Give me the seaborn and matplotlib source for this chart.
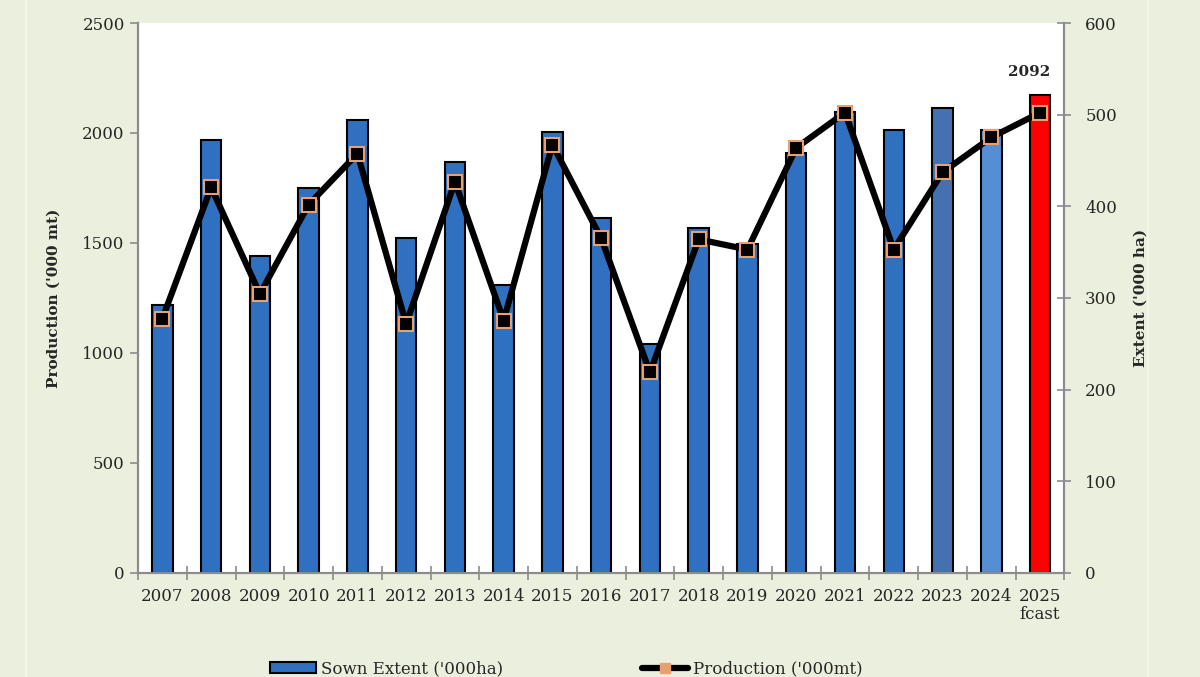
import numpy as np
import pandas as pd
import matplotlib
matplotlib.use("Agg")
import matplotlib.pyplot as plt
from matplotlib.patches import Patch
from matplotlib.lines import Line2D
import seaborn as sns

# data
years = ["2007", "2008", "2009", "2010", "2011", "2012", "2013", "2014", "2015", "2016",
         "2017", "2018", "2019", "2020", "2021", "2022", "2023", "2024", "2025\nfcast"]
extent = [292, 472, 346, 420, 494, 365, 448, 314, 481, 387,
          250, 376, 359, 458, 503, 483, 507, 483, 521]
production = [1156, 1752, 1268, 1674, 1906, 1132, 1778, 1147, 1947, 1521,
              911, 1516, 1470, 1932, 2093, 1470, 1821, 1980, 2092]
bar_colors = ["#3070C0"] * 16 + ["#4472B0", "#558ED5", "#FF0000"]

df = pd.DataFrame({"year": years, "extent": extent, "production": production})
df["pos"] = np.arange(len(years))

sns.set_theme(style="white")
plt.rcParams["font.family"] = ["DejaVu Serif"]
plt.rcParams["axes.edgecolor"] = "#8C8C8C"

bg = "#EBEFDD"
fig = plt.figure(figsize=(12, 6.77), dpi=100, facecolor=bg)
# faint panel edges in the background
for xf in (26 / 1200, 1148 / 1200):
    fig.add_artist(Line2D([xf, xf], [0, 1], color="#F3F6EA", linewidth=1.5,
                          transform=fig.transFigure, zorder=0))

ax2 = fig.add_axes([0.115, 0.154, 0.772, 0.812])
ax1 = ax2.twinx()

# bars: sown extent on the right axis
sns.barplot(data=df, x="year", y="extent", hue="year", palette=bar_colors, legend=False,
            width=0.42, edgecolor="black", linewidth=1.5, saturation=1, ax=ax2)
ax2.set_facecolor("white")
ax2.set_ylim(0, 600)
ax2.set_yticks(range(0, 601, 100))
ax2.yaxis.tick_right()
ax2.yaxis.set_label_position("right")
ax2.set_xlim(-0.5, len(years) - 0.5)
ax2.set_xlabel("")
ax2.set_ylabel("Extent ('000 ha)", fontsize=11, fontweight="bold", labelpad=0)
ax2.yaxis.set_label_coords((1133 - 138) / 926, 0.5)
ax2.tick_params(axis="y", which="major", direction="inout", length=10, width=1.2,
                color="#8C8C8C", labelsize=12, pad=10, right=True, left=False,
                labelright=True, labelleft=False)

# line: production on the left axis
ax1.set_zorder(ax2.get_zorder() + 1)
ax1.patch.set_visible(False)
sns.lineplot(data=df, x="pos", y="production", color="black", linewidth=4.5,
             marker="s", markersize=9.5, markerfacecolor="black",
             markeredgecolor="#E8A070", markeredgewidth=1.5, ax=ax1)
ax1.yaxis.tick_left()
ax1.yaxis.set_label_position("left")
ax1.set_ylim(0, 2500)
ax1.set_yticks(range(0, 2501, 500))
ax1.set_xlim(-0.5, len(years) - 0.5)
ax1.set_xlabel("")
ax1.set_ylabel("Production ('000 mt)", fontsize=11, fontweight="bold")
ax1.yaxis.set_label_coords((61 - 138) / 926, 0.5)
ax1.tick_params(axis="y", direction="out", length=6, width=1.2, color="#8C8C8C",
                labelsize=12, left=True, right=False, labelleft=True, labelright=False)
ax1.tick_params(axis="x", bottom=False, labelbottom=False)

ax1.annotate(f"{production[-1]}", xy=(df["pos"].iloc[-1], production[-1]),
             xytext=(-8, 29), textcoords="offset points", ha="center", va="center",
             fontsize=11, fontweight="bold")

# category ticks between bars
ax2.set_xticks(np.arange(len(years)))
ax2.set_xticklabels(years, fontsize=12, linespacing=1.1)
ax2.set_xticks(np.arange(-0.5, len(years)), minor=True)
ax2.tick_params(axis="x", which="major", length=0, pad=11)
ax2.tick_params(axis="x", which="minor", bottom=True, direction="inout", length=10,
                width=1.2, color="#8C8C8C")

for a in (ax1, ax2):
    a.spines["top"].set_visible(False)
    a.spines["left"].set_linewidth(1.5)
    a.spines["right"].set_linewidth(1.5)
    a.spines["bottom"].set_linewidth(1.5)

handles = [Patch(facecolor="#3070C0", edgecolor="black", linewidth=1.5),
           Line2D([0], [0], color="black", linewidth=4.5, marker="s", markersize=7,
                  markerfacecolor="#E8A070", markeredgecolor="#E8A070")]
fig.legend(handles, ["Sown Extent ('000ha)", "Production ('000mt)"], ncol=2,
           loc="center", bbox_to_anchor=(0.472, 0.012), frameon=False, fontsize=12,
           handlelength=2.8, handleheight=0.6, columnspacing=8.3, handletextpad=0.3)

fig.savefig("out.png", dpi=100, facecolor=bg)
